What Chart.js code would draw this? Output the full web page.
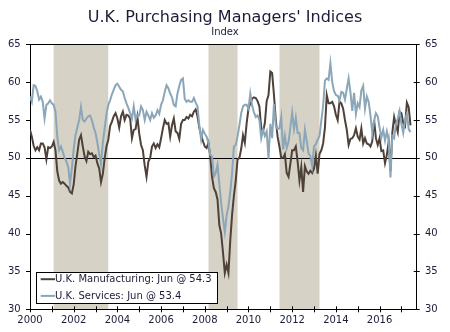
<!DOCTYPE html>
<html>
<head>
<meta charset="utf-8">
<title>U.K. Purchasing Managers' Indices</title>
<script src="https://cdn.jsdelivr.net/npm/chart.js@4.4.1/dist/chart.umd.min.js"></script>
<style>
    html, body { margin: 0; padding: 0; background: #fff; }
</style>
</head>
<body>
<canvas id="chart" width="450" height="332"></canvas>
<script>
// monthly series, Jan 2000 .. Jun 2017
const START_YEAR = 2000;

const mfgValues = [
    53.7, 52.8, 51.6, 51.0, 51.4, 51.0, 51.9, 51.9, 51.4, 49.8, 51.4, 51.3, // 2000
    51.5, 52.1, 51.0, 48.2, 47.0, 46.6, 46.8, 46.6, 46.3, 46.1, 45.5, 45.3, // 2001
    46.5, 48.9, 50.6, 52.4, 53.0, 51.5, 50.2, 49.6, 50.8, 50.5, 50.6, 50.1, // 2002
    50.3, 49.3, 48.6, 46.8, 47.9, 49.9, 51.5, 52.4, 54.2, 54.8, 55.5, 55.9, // 2003
    55.2, 54.0, 55.5, 56.1, 55.0, 55.7, 55.6, 55.2, 52.6, 53.7, 53.8, 55.4, // 2004
    53.2, 51.7, 51.0, 49.0, 47.5, 49.5, 50.0, 51.5, 51.9, 51.3, 51.8, 51.4, // 2005
    52.6, 53.9, 55.0, 54.5, 54.6, 52.8, 54.3, 55.2, 53.5, 53.3, 52.5, 54.5, // 2006
    55.0, 55.0, 55.4, 55.2, 55.7, 55.5, 56.1, 56.4, 55.5, 54.0, 53.0, 52.2, // 2007
    51.5, 51.3, 52.0, 50.2, 47.5, 46.0, 45.5, 44.5, 41.1, 40.0, 37.5, 34.8, // 2008
    35.9, 34.8, 39.1, 42.5, 45.0, 47.0, 49.8, 50.0, 51.2, 53.0, 52.0, 54.6, // 2009
    56.5, 57.2, 57.8, 58.0, 57.9, 57.5, 56.8, 53.9, 53.5, 54.6, 57.5, 58.3, // 2010
    61.4, 61.2, 58.3, 55.0, 52.8, 51.5, 50.0, 50.0, 50.5, 48.0, 47.5, 49.2, // 2011
    51.0, 51.0, 51.5, 49.5, 47.0, 48.8, 45.5, 48.9, 48.2, 47.9, 48.3, 48.0, // 2012
    48.6, 50.3, 47.9, 50.5, 51.0, 51.9, 54.0, 58.3, 57.2, 57.2, 57.4, 56.8, // 2013
    55.7, 55.0, 57.4, 57.2, 56.5, 55.0, 53.7, 51.7, 52.5, 52.6, 53.0, 53.9, // 2014
    52.8, 52.4, 53.9, 51.9, 52.6, 51.9, 51.8, 51.5, 52.2, 55.0, 52.6, 51.7, // 2015
    52.6, 50.9, 51.0, 49.3, 50.4, 52.1, 48.3, 53.3, 55.4, 54.3, 53.4, 56.1, // 2016
    55.9, 54.6, 54.2, 57.3, 56.7, 54.3                                      // 2017
];

const svcValues = [
    58.1, 57.4, 59.6, 59.5, 58.8, 57.7, 58.1, 57.4, 55.2, 57.0, 57.2, 57.6, // 2000
    57.2, 57.0, 56.1, 52.8, 51.0, 51.5, 50.8, 50.0, 49.5, 48.8, 46.6, 48.6, // 2001
    51.2, 53.0, 54.0, 55.0, 56.7, 55.0, 54.8, 55.2, 55.5, 55.6, 55.0, 54.0, // 2002
    53.3, 52.0, 50.5, 49.2, 52.0, 53.9, 55.8, 57.0, 57.6, 58.4, 59.0, 59.6, // 2003
    59.8, 59.4, 59.0, 58.8, 57.9, 57.2, 56.6, 55.9, 55.2, 56.8, 55.0, 55.7, // 2004
    55.6, 56.8, 56.3, 55.0, 56.1, 55.6, 55.0, 55.9, 55.3, 55.6, 56.3, 55.8, // 2005
    57.0, 57.6, 58.7, 59.6, 59.2, 58.5, 58.0, 57.0, 56.8, 58.5, 59.5, 60.3, // 2006
    60.5, 57.8, 57.4, 57.6, 57.4, 57.4, 57.9, 57.3, 56.8, 54.3, 52.4, 53.7, // 2007
    53.2, 52.8, 52.0, 50.4, 50.2, 47.5, 48.0, 49.1, 46.5, 44.0, 42.0, 40.2, // 2008
    42.4, 43.6, 45.5, 48.0, 51.5, 51.7, 52.8, 54.3, 55.9, 56.8, 57.0, 57.0, // 2009
    56.5, 58.5, 56.9, 56.0, 55.4, 55.6, 55.0, 52.6, 53.7, 52.9, 53.5, 49.9, // 2010
    54.5, 52.6, 57.1, 54.3, 53.8, 53.9, 55.4, 51.1, 52.9, 51.3, 52.1, 54.0, // 2011
    56.0, 53.8, 55.3, 53.3, 53.3, 51.3, 51.0, 53.7, 52.2, 50.6, 50.2, 48.9, // 2012
    51.5, 51.8, 52.4, 52.9, 54.9, 56.9, 60.2, 60.5, 60.3, 62.5, 60.0, 58.8, // 2013
    58.3, 58.2, 57.6, 58.7, 58.6, 57.7, 59.1, 60.5, 58.7, 56.2, 58.6, 55.8, // 2014
    57.2, 56.7, 58.9, 59.5, 56.5, 58.1, 57.4, 55.6, 53.3, 54.9, 55.9, 55.5, // 2015
    54.0, 52.7, 53.7, 52.3, 53.5, 52.3, 47.4, 52.9, 52.6, 54.5, 55.2, 56.2, // 2016
    54.5, 53.3, 55.0, 55.8, 53.8, 53.4                                      // 2017
];

const seriesNames = ['U.K. Manufacturing', 'U.K. Services'];
const lastMonthName = 'Jun';

// shaded periods, in decimal years
const shadedPeriods = [
    [2001.08, 2003.58],
    [2008.17, 2009.50],
    [2011.42, 2013.25],
];

const yearTicks = [2000, 2001, 2002, 2003, 2004, 2005, 2006, 2007, 2008,
                   2009, 2010, 2011, 2012, 2013, 2014, 2015, 2016, 2017];
const valueTicks = [30, 35, 40, 45, 50, 55, 60, 65];
const refLevel = 50;

const FONT = '"DejaVu Sans", Verdana, sans-serif';
const TEXT_COLOR = '#1c1c38';
const MFG_COLOR = '#4d4139';
const SVC_COLOR = '#8ba6b8';
const BAND_COLOR = '#d6d2c6';

function toPoints(values) {
    return values.map((v, i) => ({ x: START_YEAR + i / 12, y: v }));
}

function px(v) {
    return Math.round(v) + 0.5;
}

// white background + shaded periods, under the axes
const bandsPlugin = {
    id: 'bands',
    beforeDraw(chart) {
        const { ctx, chartArea, scales } = chart;
        ctx.save();
        ctx.fillStyle = '#ffffff';
        ctx.fillRect(0, 0, chart.width, chart.height);
        ctx.fillStyle = BAND_COLOR;
        for (const [from, to] of shadedPeriods) {
            const x1 = scales.x.getPixelForValue(from);
            const x2 = scales.x.getPixelForValue(to);
            ctx.fillRect(x1, chartArea.top, x2 - x1, chartArea.bottom - chartArea.top);
        }
        ctx.restore();
    },
    beforeDatasetsDraw(chart) {
        const { ctx, chartArea, scales } = chart;
        const y = px(scales.y.getPixelForValue(refLevel));
        ctx.save();
        ctx.strokeStyle = '#000';
        ctx.lineWidth = 1;
        ctx.beginPath();
        ctx.moveTo(chartArea.left, y);
        ctx.lineTo(chartArea.right, y);
        // top frame line
        const top = px(chartArea.top);
        ctx.moveTo(chartArea.left, top);
        ctx.lineTo(chartArea.right, top);
        ctx.stroke();
        ctx.restore();
    }
};

// tick marks: left outward, right and bottom crossing the axis
const tickMarksPlugin = {
    id: 'tickMarks',
    afterDraw(chart) {
        const { ctx, chartArea, scales } = chart;
        ctx.save();
        ctx.strokeStyle = '#000';
        ctx.lineWidth = 1;
        ctx.beginPath();
        for (const v of valueTicks) {
            const y = px(scales.y.getPixelForValue(v));
            ctx.moveTo(chartArea.left - 4, y);
            ctx.lineTo(chartArea.left, y);
            ctx.moveTo(chartArea.right - 3, y);
            ctx.lineTo(chartArea.right + 3, y);
        }
        for (const yr of yearTicks) {
            const x = px(scales.x.getPixelForValue(yr));
            ctx.moveTo(x, chartArea.bottom - 3);
            ctx.lineTo(x, chartArea.bottom + 3);
        }
        ctx.stroke();
        ctx.restore();
    }
};

// framed legend in the lower left of the plot
const legendBoxPlugin = {
    id: 'legendBox',
    afterDraw(chart) {
        const { ctx, chartArea } = chart;
        const sets = chart.data.datasets;
        const rowH = 16.7, padX = 4.7, padY = 7.2, swatch = 14.3;

        ctx.save();
        ctx.font = '10px ' + FONT;
        const texts = sets.map(ds => {
            const last = ds.data[ds.data.length - 1].y;
            return ds.label + ': ' + lastMonthName + ' @ ' + last.toFixed(1);
        });
        const textW = Math.max(...texts.map(t => ctx.measureText(t).width));
        const w = padX + swatch + textW + 5.6;
        const h = padY * 2 + rowH * (sets.length - 1);
        const left = Math.round(chartArea.left + 6);
        const top = Math.round(chartArea.bottom - 6.6 - h);

        ctx.fillStyle = '#ffffff';
        ctx.fillRect(left, top, w, h);
        ctx.strokeStyle = '#000';
        ctx.lineWidth = 1;
        ctx.strokeRect(left + 0.5, top + 0.5, Math.round(w), Math.round(h));

        ctx.textBaseline = 'middle';
        ctx.textAlign = 'left';
        sets.forEach((ds, i) => {
            const y = top + padY + rowH * i;
            ctx.strokeStyle = ds.borderColor;
            ctx.lineWidth = 2;
            ctx.beginPath();
            ctx.moveTo(left + padX, y);
            ctx.lineTo(left + padX + swatch, y);
            ctx.stroke();
            ctx.fillStyle = TEXT_COLOR;
            ctx.fillText(texts[i], left + padX + swatch, y + 0.5);
        });
        ctx.restore();
    }
};

function valueAxis(position, width, padding) {
    return {
        type: 'linear',
        position: position,
        min: 30,
        max: 65,
        afterBuildTicks: s => { s.ticks = valueTicks.map(v => ({ value: v })); },
        afterFit: s => { s.width = width; },
        grid: { display: false, drawTicks: false },
        border: { display: true, color: '#000', width: 1 },
        ticks: {
            padding: padding,
            color: TEXT_COLOR,
            font: { family: FONT, size: 10 },
        }
    };
}

const chart = new Chart(document.getElementById('chart'), {
    type: 'line',
    data: {
        datasets: [{
            label: seriesNames[0],
            data: toPoints(mfgValues),
            borderColor: MFG_COLOR,
            borderWidth: 2,
            pointRadius: 0,
            tension: 0,
            order: 2,
        }, {
            label: seriesNames[1],
            data: toPoints(svcValues),
            borderColor: SVC_COLOR,
            borderWidth: 2,
            pointRadius: 0,
            tension: 0,
            order: 1,
        }]
    },
    options: {
        responsive: false,
        animation: false,
        layout: { padding: 0 },
        plugins: {
            legend: { display: false },
            tooltip: { enabled: false },
            title: {
                display: true,
                text: "U.K. Purchasing Managers' Indices",
                color: TEXT_COLOR,
                font: { family: FONT, size: 16, weight: 'normal' },
                padding: { top: 8.7, bottom: 0 },
            },
            subtitle: {
                display: true,
                text: 'Index',
                color: TEXT_COLOR,
                font: { family: FONT, size: 10, weight: 'normal', lineHeight: 1.0 },
                padding: { top: 0, bottom: 6.4 },
            },
        },
        scales: {
            x: {
                type: 'linear',
                min: 2000,
                max: 2017.7,
                afterBuildTicks: s => { s.ticks = yearTicks.map(v => ({ value: v })); },
                afterFit: s => { s.height = 22.7; },
                grid: { display: false, drawTicks: false },
                border: { display: true, color: '#000', width: 1 },
                ticks: {
                    padding: 5,
                    autoSkip: false,
                    maxRotation: 0,
                    color: TEXT_COLOR,
                    font: { family: FONT, size: 10 },
                    callback: v => (v % 2 === 0 ? String(v) : ''),
                }
            },
            y: valueAxis('left', 30, 9.3),
            y2: valueAxis('right', 33.3, 8.3),
        }
    },
    plugins: [bandsPlugin, tickMarksPlugin, legendBoxPlugin]
});
</script>
</body>
</html>
